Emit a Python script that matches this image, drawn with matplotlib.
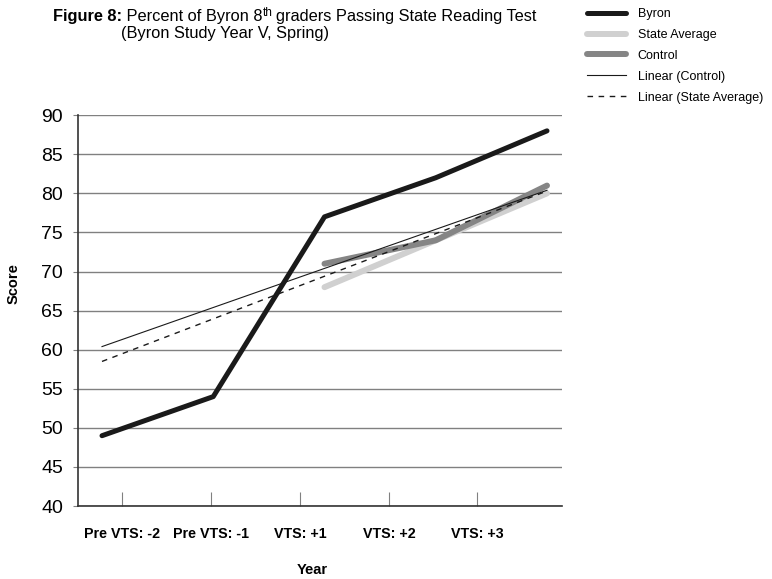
import matplotlib.pyplot as plt

# --- Data ---
categories = ["Pre VTS: -2", "Pre VTS: -1", "VTS: +1", "VTS: +2", "VTS: +3"]
byron = [49, 54, 77, 82, 88]
state_x = [2, 3, 4]
state_avg = [68, 74, 80]
control_x = [2, 3, 4]
control = [71, 74, 81]
# Excel trend lines (endpoints)
trend_x = [0, 4]
linear_control = [60.4, 80.4]
linear_state = [58.5, 80.3]
# label/tick positions (offset from the data points in the original)
tick_pos = [0.18, 0.98, 1.78, 2.58, 3.37]

plt.rcParams['font.family'] = ['Liberation Sans', 'DejaVu Sans']

fig = plt.figure(figsize=(7.72, 5.79), dpi=100)
ax = fig.add_axes([0.101, 0.126, 0.627, 0.675])

ax.plot(range(len(byron)), byron, color='#1a1a1a', lw=3.6,
        solid_capstyle='round', label="Byron", zorder=3)
ax.plot(state_x, state_avg, color='#d0d0d0', lw=4.3,
        solid_capstyle='round', label="State Average", zorder=3)
ax.plot(control_x, control, color='#858585', lw=4.3,
        solid_capstyle='round', label="Control", zorder=4)
ax.plot(trend_x, linear_control, color='#1a1a1a', lw=0.8,
        label="Linear (Control)", zorder=5)
ax.plot(trend_x, linear_state, color='#1a1a1a', lw=1.0, ls=(0, (4, 4)),
        label="Linear (State Average)", zorder=5)

ax.set_xlim(-0.216, 4.135)
ax.set_ylim(40, 90)
ax.set_yticks(range(40, 91, 5))
ax.set_xticks(tick_pos)
ax.set_xticklabels(categories, fontsize=10.3, fontweight='bold')
ax.tick_params(axis='x', direction='in', length=10, color='#808080', pad=15)
ax.tick_params(axis='y', direction='out', length=3.6, color='#808080',
               labelsize=14, pad=7)
ax.grid(axis='y', color='#808080', lw=1)
ax.set_axisbelow(True)
for side in ['top', 'right']:
    ax.spines[side].set_visible(False)
for side in ['left', 'bottom']:
    ax.spines[side].set_color('#333333')
    ax.spines[side].set_linewidth(1.2)

fig.text(0.017, 0.511, "Score", rotation=90, fontsize=10.5, fontweight='bold',
         ha='center', va='center')
fig.text(0.405, 0.016, "Year", fontsize=10.5, fontweight='bold',
         ha='center', va='center')

# title made of pieces: bold "Figure 8:", normal text, superscript "th"
renderer = fig.canvas.get_renderer()
x0, y0 = 53, 579 - 21
pieces = [("Figure 8:", 'bold', 11.8, 0), (" Percent of Byron 8", 'normal', 11.8, 0),
          ("th", 'normal', 8.5, 5), ("graders Passing State Reading Test", 'normal', 11.8, 0)]
for txt, wt, sz, dy in pieces:
    t = fig.text(x0 / 772, (y0 + dy) / 579, txt, fontsize=sz, fontweight=wt,
                 ha='left', va='baseline')
    x0 += t.get_window_extent(renderer).width
    if txt == "th":
        x0 += 4
fig.text(0.291, 0.943, "(Byron Study Year V, Spring)", fontsize=11.8,
         ha='center', va='center')

fig.legend(loc='upper left', bbox_to_anchor=(587 / 772, 0.986), frameon=False,
           fontsize=9, handlelength=3.1, labelspacing=0.71, handletextpad=0.96,
           borderpad=0, borderaxespad=0)

plt.savefig("out.png", dpi=100)
